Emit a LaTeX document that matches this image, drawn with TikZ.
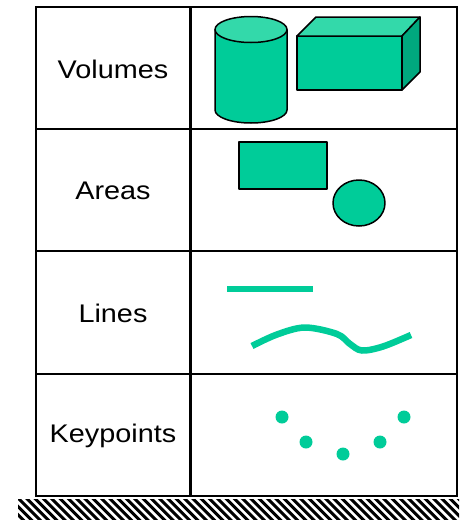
\documentclass[tikz,border=0pt]{standalone}
\usepackage{fontspec}
\setmainfont[FakeStretch=1.13]{Liberation Sans}
\definecolor{teal1}{RGB}{0,204,153}
\definecolor{teallight}{RGB}{51,217,170}
\definecolor{tealdark}{RGB}{0,168,126}
\tikzset{
  cellline/.style={line width=2pt, draw=black},
  divline/.style={line width=3pt, draw=black},
  lbl/.style={font=\fontsize{25.5}{30}\selectfont, inner sep=0pt},
  solid3d/.style={fill=teal1, draw=black, line width=1.5pt, line join=round},
  top3d/.style={fill=teallight, draw=black, line width=1.5pt, line join=round},
  side3d/.style={fill=tealdark, draw=black, line width=1.5pt, line join=round},
  strokeline/.style={draw=teal1, line width=6.5pt, line cap=butt},
  kp/.style={fill=teal1},
  hatch/.style={line width=3pt, draw=black}
}
\begin{document}
\begin{tikzpicture}[x=1pt,y=-1pt]
\useasboundingbox (0,0) rectangle (459,520);
% table
\draw[cellline] (36,7) rectangle (457,496);
\foreach \yy in {129,251,374} \draw[cellline] (36,\yy) -- (457,\yy);
\draw[divline] (190,7) -- (190,496);
% labels
\node[lbl] (volumes) at (113,69) {Volumes};
\node[lbl] (areas) at (113,191) {Areas};
\node[lbl] (lines) at (113,313.5) {Lines};
\node[lbl] (keypoints) at (113,436) {Keypoints};
% cylinder
\draw[solid3d] (215,29.5) -- (215,110) arc[start angle=180,end angle=360,x radius=36pt,y radius=13pt] -- (287,29.5) -- cycle;
\draw[top3d] (251,29.5) ellipse [x radius=36pt, y radius=13pt];
% box
\draw[solid3d] (297,36) rectangle (402,90);
\draw[top3d] (297,36) -- (316,17) -- (420,17) -- (402,36) -- cycle;
\draw[side3d] (402,36) -- (420,17) -- (420,72) -- (402,90) -- cycle;
% areas
\draw[solid3d] (239,142) rectangle (327,189);
\draw[solid3d] (359,203) ellipse [x radius=26pt, y radius=23pt];
% lines
\draw[strokeline] (227,289) -- (313,289);
\draw[strokeline] plot[smooth, tension=0.55] coordinates {(252,346) (277,334.5) (305,327.5) (337,334) (350,344) (362,350.5) (383,346.5) (411,335)};
% keypoints
\foreach \px/\py in {282/417, 306/442, 343/454, 380/442, 404/417}
  \fill[kp] (\px,\py) circle[radius=6.5pt];
% ground hatch
\begin{scope}
\clip (18,499) rectangle (459,520);
\foreach \i in {0,...,58} \draw[hatch] ({-8+8.3*\i},497) -- ({-8+8.3*\i+25},522);
\end{scope}
\end{tikzpicture}
\end{document}
